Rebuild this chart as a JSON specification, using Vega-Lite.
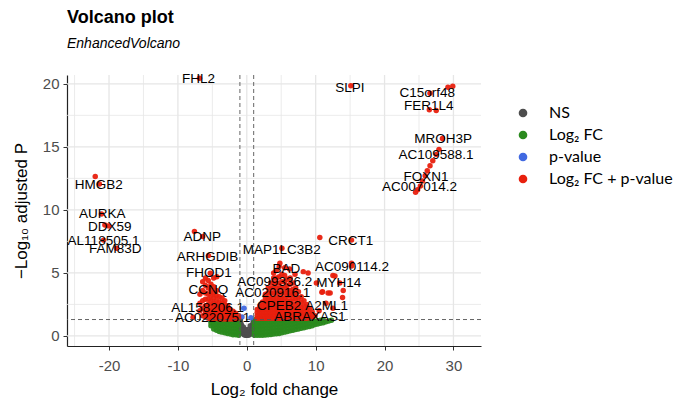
{
"$schema": "https://vega.github.io/schema/vega-lite/v6.json",
"width": 414, "height": 271,
"autosize": {"type": "none"},
"padding": {"left": 67, "top": 75, "right": 195, "bottom": 53},
"background": "white",
"title": {"text": "Volcano plot", "subtitle": "EnhancedVolcano", "anchor": "start", "frame": "group", "fontSize": 18, "fontWeight": "bold", "font": "Liberation Sans", "color": "#000", "subtitleFont": "Liberation Sans", "subtitleFontSize": 14, "subtitleFontStyle": "italic", "subtitleColor": "#000", "subtitlePadding": 10, "offset": 21},
"config": {"view": {"stroke": null}, "axis": {"labelFont": "Liberation Sans", "titleFont": "Liberation Sans", "labelColor": "#4D4D4D", "titleColor": "#000", "titleFontWeight": "normal"}},
"datasets": {
"pts": [
{"x":-0.9,"y":1.1,"g":"NS"},{"x":-0.8,"y":0.9,"g":"NS"},{"x":-0.95,"y":0.7,"g":"NS"},{"x":-0.7,"y":0.5,"g":"NS"},{"x":-0.85,"y":0.3,"g":"NS"},{"x":-0.6,"y":0.2,"g":"NS"},{"x":-0.5,"y":0.4,"g":"NS"},{"x":-0.4,"y":0.1,"g":"NS"},{"x":-0.3,"y":0.2,"g":"NS"},{"x":-0.2,"y":0.05,"g":"NS"},{"x":-0.1,"y":0.1,"g":"NS"},{"x":0,"y":0.05,"g":"NS"},{"x":0.1,"y":0.15,"g":"NS"},{"x":0.2,"y":0.05,"g":"NS"},{"x":0.3,"y":0.25,"g":"NS"},{"x":0.4,"y":0.1,"g":"NS"},{"x":0.5,"y":0.35,"g":"NS"},{"x":0.6,"y":0.2,"g":"NS"},{"x":0.7,"y":0.55,"g":"NS"},{"x":0.8,"y":0.8,"g":"NS"},{"x":0.9,"y":1.0,"g":"NS"},{"x":0.95,"y":1.2,"g":"NS"},{"x":-0.95,"y":1.25,"g":"NS"},{"x":0.85,"y":0.45,"g":"NS"},{"x":-0.75,"y":0.75,"g":"NS"},{"x":0,"y":0.3,"g":"NS"},{"x":-0.5,"y":0.7,"g":"NS"},{"x":0.5,"y":0.8,"g":"NS"},{"x":0.2,"y":0.5,"g":"NS"},{"x":-0.2,"y":0.5,"g":"NS"},{"x":-0.9,"y":0.45,"g":"NS"},{"x":0.9,"y":0.65,"g":"NS"},
{"x":-5.2,"y":0.8,"g":"FC"},{"x":-5.2,"y":1.05,"g":"FC"},{"x":-5.2,"y":1.25,"g":"FC"},
{"x":-4.8,"y":0.55,"g":"FC"},{"x":-4.8,"y":0.8,"g":"FC"},{"x":-4.8,"y":1.05,"g":"FC"},{"x":-4.8,"y":1.25,"g":"FC"},
{"x":-4.4,"y":0.45,"g":"FC"},{"x":-4.4,"y":0.7,"g":"FC"},{"x":-4.4,"y":0.95,"g":"FC"},{"x":-4.4,"y":1.2,"g":"FC"},
{"x":-4.0,"y":0.35,"g":"FC"},{"x":-4.0,"y":0.6,"g":"FC"},{"x":-4.0,"y":0.85,"g":"FC"},{"x":-4.0,"y":1.1,"g":"FC"},
{"x":-3.6,"y":0.3,"g":"FC"},{"x":-3.6,"y":0.55,"g":"FC"},{"x":-3.6,"y":0.8,"g":"FC"},{"x":-3.6,"y":1.05,"g":"FC"},{"x":-3.6,"y":1.28,"g":"FC"},
{"x":-3.2,"y":0.25,"g":"FC"},{"x":-3.2,"y":0.5,"g":"FC"},{"x":-3.2,"y":0.75,"g":"FC"},{"x":-3.2,"y":1.0,"g":"FC"},{"x":-3.2,"y":1.25,"g":"FC"},
{"x":-2.8,"y":0.2,"g":"FC"},{"x":-2.8,"y":0.45,"g":"FC"},{"x":-2.8,"y":0.7,"g":"FC"},{"x":-2.8,"y":0.95,"g":"FC"},{"x":-2.8,"y":1.2,"g":"FC"},
{"x":-2.4,"y":0.15,"g":"FC"},{"x":-2.4,"y":0.4,"g":"FC"},{"x":-2.4,"y":0.65,"g":"FC"},{"x":-2.4,"y":0.9,"g":"FC"},{"x":-2.4,"y":1.15,"g":"FC"},
{"x":-2.0,"y":0.1,"g":"FC"},{"x":-2.0,"y":0.35,"g":"FC"},{"x":-2.0,"y":0.6,"g":"FC"},{"x":-2.0,"y":0.85,"g":"FC"},{"x":-2.0,"y":1.1,"g":"FC"},
{"x":-1.6,"y":0.1,"g":"FC"},{"x":-1.6,"y":0.35,"g":"FC"},{"x":-1.6,"y":0.6,"g":"FC"},{"x":-1.6,"y":0.85,"g":"FC"},{"x":-1.6,"y":1.1,"g":"FC"},{"x":-1.6,"y":1.28,"g":"FC"},
{"x":-1.2,"y":0.05,"g":"FC"},{"x":-1.2,"y":0.3,"g":"FC"},{"x":-1.2,"y":0.55,"g":"FC"},{"x":-1.2,"y":0.8,"g":"FC"},{"x":-1.2,"y":1.05,"g":"FC"},{"x":-1.2,"y":1.25,"g":"FC"},
{"x":1.1,"y":0.05,"g":"FC"},{"x":1.1,"y":0.3,"g":"FC"},{"x":1.1,"y":0.55,"g":"FC"},{"x":1.1,"y":0.8,"g":"FC"},{"x":1.1,"y":1.05,"g":"FC"},{"x":1.1,"y":1.28,"g":"FC"},
{"x":1.5,"y":0.05,"g":"FC"},{"x":1.5,"y":0.3,"g":"FC"},{"x":1.5,"y":0.55,"g":"FC"},{"x":1.5,"y":0.8,"g":"FC"},{"x":1.5,"y":1.05,"g":"FC"},{"x":1.5,"y":1.28,"g":"FC"},
{"x":1.9,"y":0.05,"g":"FC"},{"x":1.9,"y":0.3,"g":"FC"},{"x":1.9,"y":0.55,"g":"FC"},{"x":1.9,"y":0.8,"g":"FC"},{"x":1.9,"y":1.05,"g":"FC"},{"x":1.9,"y":1.28,"g":"FC"},
{"x":2.3,"y":0.05,"g":"FC"},{"x":2.3,"y":0.3,"g":"FC"},{"x":2.3,"y":0.55,"g":"FC"},{"x":2.3,"y":0.8,"g":"FC"},{"x":2.3,"y":1.05,"g":"FC"},{"x":2.3,"y":1.28,"g":"FC"},
{"x":2.7,"y":0.08,"g":"FC"},{"x":2.7,"y":0.33,"g":"FC"},{"x":2.7,"y":0.58,"g":"FC"},{"x":2.7,"y":0.83,"g":"FC"},{"x":2.7,"y":1.08,"g":"FC"},{"x":2.7,"y":1.28,"g":"FC"},
{"x":3.1,"y":0.1,"g":"FC"},{"x":3.1,"y":0.35,"g":"FC"},{"x":3.1,"y":0.6,"g":"FC"},{"x":3.1,"y":0.85,"g":"FC"},{"x":3.1,"y":1.1,"g":"FC"},
{"x":3.5,"y":0.12,"g":"FC"},{"x":3.5,"y":0.37,"g":"FC"},{"x":3.5,"y":0.62,"g":"FC"},{"x":3.5,"y":0.87,"g":"FC"},{"x":3.5,"y":1.12,"g":"FC"},
{"x":3.9,"y":0.15,"g":"FC"},{"x":3.9,"y":0.4,"g":"FC"},{"x":3.9,"y":0.65,"g":"FC"},{"x":3.9,"y":0.9,"g":"FC"},{"x":3.9,"y":1.15,"g":"FC"},
{"x":4.3,"y":0.18,"g":"FC"},{"x":4.3,"y":0.43,"g":"FC"},{"x":4.3,"y":0.68,"g":"FC"},{"x":4.3,"y":0.93,"g":"FC"},{"x":4.3,"y":1.18,"g":"FC"},
{"x":4.7,"y":0.2,"g":"FC"},{"x":4.7,"y":0.45,"g":"FC"},{"x":4.7,"y":0.7,"g":"FC"},{"x":4.7,"y":0.95,"g":"FC"},{"x":4.7,"y":1.2,"g":"FC"},
{"x":5.1,"y":0.25,"g":"FC"},{"x":5.1,"y":0.5,"g":"FC"},{"x":5.1,"y":0.75,"g":"FC"},{"x":5.1,"y":1.0,"g":"FC"},{"x":5.1,"y":1.25,"g":"FC"},
{"x":5.5,"y":0.3,"g":"FC"},{"x":5.5,"y":0.55,"g":"FC"},{"x":5.5,"y":0.8,"g":"FC"},{"x":5.5,"y":1.05,"g":"FC"},{"x":5.5,"y":1.28,"g":"FC"},
{"x":5.9,"y":0.35,"g":"FC"},{"x":5.9,"y":0.6,"g":"FC"},{"x":5.9,"y":0.85,"g":"FC"},{"x":5.9,"y":1.1,"g":"FC"},
{"x":6.3,"y":0.4,"g":"FC"},{"x":6.3,"y":0.65,"g":"FC"},{"x":6.3,"y":0.9,"g":"FC"},{"x":6.3,"y":1.15,"g":"FC"},
{"x":6.7,"y":0.45,"g":"FC"},{"x":6.7,"y":0.7,"g":"FC"},{"x":6.7,"y":0.95,"g":"FC"},{"x":6.7,"y":1.2,"g":"FC"},
{"x":7.1,"y":0.5,"g":"FC"},{"x":7.1,"y":0.75,"g":"FC"},{"x":7.1,"y":1.0,"g":"FC"},{"x":7.1,"y":1.25,"g":"FC"},
{"x":7.5,"y":0.55,"g":"FC"},{"x":7.5,"y":0.8,"g":"FC"},{"x":7.5,"y":1.05,"g":"FC"},{"x":7.5,"y":1.28,"g":"FC"},
{"x":7.9,"y":0.6,"g":"FC"},{"x":7.9,"y":0.85,"g":"FC"},{"x":7.9,"y":1.1,"g":"FC"},
{"x":8.3,"y":0.65,"g":"FC"},{"x":8.3,"y":0.9,"g":"FC"},{"x":8.3,"y":1.15,"g":"FC"},
{"x":8.7,"y":0.7,"g":"FC"},{"x":8.7,"y":0.95,"g":"FC"},{"x":8.7,"y":1.2,"g":"FC"},
{"x":9.1,"y":0.75,"g":"FC"},{"x":9.1,"y":1.0,"g":"FC"},{"x":9.1,"y":1.25,"g":"FC"},
{"x":9.5,"y":0.8,"g":"FC"},{"x":9.5,"y":1.05,"g":"FC"},{"x":9.5,"y":1.28,"g":"FC"},
{"x":9.9,"y":0.9,"g":"FC"},{"x":9.9,"y":1.15,"g":"FC"},
{"x":10.3,"y":0.95,"g":"FC"},{"x":10.3,"y":1.2,"g":"FC"},
{"x":10.7,"y":1.0,"g":"FC"},{"x":10.7,"y":1.25,"g":"FC"},
{"x":11.1,"y":1.05,"g":"FC"},{"x":11.1,"y":1.28,"g":"FC"},
{"x":11.5,"y":1.12,"g":"FC"},{"x":11.9,"y":1.18,"g":"FC"},{"x":12.3,"y":1.25,"g":"FC"},
{"x":-0.4,"y":2.2,"g":"P"},{"x":-0.7,"y":1.5,"g":"P"},{"x":0.6,"y":1.45,"g":"P"},
{"x":-6.8,"y":2.0,"g":"B"},{"x":-6.8,"y":2.6,"g":"B"},{"x":-6.8,"y":3.3,"g":"B"},
{"x":-6.4,"y":1.6,"g":"B"},{"x":-6.4,"y":2.2,"g":"B"},{"x":-6.4,"y":2.8,"g":"B"},{"x":-6.4,"y":3.6,"g":"B"},{"x":-6.4,"y":4.3,"g":"B"},
{"x":-6.0,"y":1.5,"g":"B"},{"x":-6.0,"y":1.9,"g":"B"},{"x":-6.0,"y":2.4,"g":"B"},{"x":-6.0,"y":2.9,"g":"B"},{"x":-6.0,"y":3.4,"g":"B"},{"x":-6.0,"y":4.0,"g":"B"},{"x":-6.0,"y":4.6,"g":"B"},
{"x":-5.6,"y":1.4,"g":"B"},{"x":-5.6,"y":1.7,"g":"B"},{"x":-5.6,"y":2.1,"g":"B"},{"x":-5.6,"y":2.5,"g":"B"},{"x":-5.6,"y":2.9,"g":"B"},{"x":-5.6,"y":3.3,"g":"B"},{"x":-5.6,"y":3.8,"g":"B"},{"x":-5.6,"y":4.4,"g":"B"},
{"x":-5.2,"y":1.4,"g":"B"},{"x":-5.2,"y":1.7,"g":"B"},{"x":-5.2,"y":2.0,"g":"B"},{"x":-5.2,"y":2.4,"g":"B"},{"x":-5.2,"y":2.8,"g":"B"},{"x":-5.2,"y":3.2,"g":"B"},{"x":-5.2,"y":3.6,"g":"B"},{"x":-5.2,"y":4.1,"g":"B"},
{"x":-4.8,"y":1.4,"g":"B"},{"x":-4.8,"y":1.65,"g":"B"},{"x":-4.8,"y":1.9,"g":"B"},{"x":-4.8,"y":2.2,"g":"B"},{"x":-4.8,"y":2.6,"g":"B"},{"x":-4.8,"y":3.0,"g":"B"},{"x":-4.8,"y":3.4,"g":"B"},{"x":-4.8,"y":3.9,"g":"B"},{"x":-4.8,"y":4.6,"g":"B"},
{"x":-4.4,"y":1.4,"g":"B"},{"x":-4.4,"y":1.6,"g":"B"},{"x":-4.4,"y":1.85,"g":"B"},{"x":-4.4,"y":2.1,"g":"B"},{"x":-4.4,"y":2.4,"g":"B"},{"x":-4.4,"y":2.8,"g":"B"},{"x":-4.4,"y":3.2,"g":"B"},{"x":-4.4,"y":3.6,"g":"B"},
{"x":-4.0,"y":1.35,"g":"B"},{"x":-4.0,"y":1.55,"g":"B"},{"x":-4.0,"y":1.8,"g":"B"},{"x":-4.0,"y":2.05,"g":"B"},{"x":-4.0,"y":2.35,"g":"B"},{"x":-4.0,"y":2.7,"g":"B"},{"x":-4.0,"y":3.1,"g":"B"},
{"x":-3.6,"y":1.35,"g":"B"},{"x":-3.6,"y":1.55,"g":"B"},{"x":-3.6,"y":1.75,"g":"B"},{"x":-3.6,"y":2.0,"g":"B"},{"x":-3.6,"y":2.3,"g":"B"},{"x":-3.6,"y":2.6,"g":"B"},{"x":-3.6,"y":3.0,"g":"B"},
{"x":-3.2,"y":1.35,"g":"B"},{"x":-3.2,"y":1.5,"g":"B"},{"x":-3.2,"y":1.7,"g":"B"},{"x":-3.2,"y":1.95,"g":"B"},{"x":-3.2,"y":2.2,"g":"B"},{"x":-3.2,"y":2.5,"g":"B"},{"x":-3.2,"y":2.8,"g":"B"},
{"x":-2.8,"y":1.35,"g":"B"},{"x":-2.8,"y":1.5,"g":"B"},{"x":-2.8,"y":1.7,"g":"B"},{"x":-2.8,"y":1.9,"g":"B"},{"x":-2.8,"y":2.15,"g":"B"},{"x":-2.8,"y":2.4,"g":"B"},
{"x":-2.4,"y":1.35,"g":"B"},{"x":-2.4,"y":1.5,"g":"B"},{"x":-2.4,"y":1.7,"g":"B"},{"x":-2.4,"y":1.9,"g":"B"},{"x":-2.4,"y":2.1,"g":"B"},
{"x":-2.0,"y":1.35,"g":"B"},{"x":-2.0,"y":1.5,"g":"B"},{"x":-2.0,"y":1.7,"g":"B"},{"x":-2.0,"y":1.95,"g":"B"},
{"x":-1.6,"y":1.35,"g":"B"},{"x":-1.6,"y":1.55,"g":"B"},{"x":-1.6,"y":1.8,"g":"B"},
{"x":-1.2,"y":1.4,"g":"B"},{"x":-1.2,"y":1.6,"g":"B"},
{"x":-7.8,"y":1.48,"g":"B"},{"x":-5.3,"y":4.97,"g":"B"},{"x":-4.35,"y":4.7,"g":"B"},{"x":-5.56,"y":6.37,"g":"B"},{"x":-6.4,"y":7.88,"g":"B"},{"x":-7.6,"y":8.28,"g":"B"},{"x":-6.87,"y":20.45,"g":"B"},
{"x":-22.0,"y":12.65,"g":"B"},{"x":-21.4,"y":12.06,"g":"B"},{"x":-21.1,"y":9.68,"g":"B"},{"x":-20.06,"y":8.73,"g":"B"},{"x":-20.6,"y":8.8,"g":"B"},{"x":-20.8,"y":7.6,"g":"B"},{"x":-18.9,"y":6.96,"g":"B"},
{"x":1.5,"y":1.4,"g":"B"},{"x":1.5,"y":1.6,"g":"B"},{"x":1.5,"y":1.85,"g":"B"},{"x":1.5,"y":2.1,"g":"B"},
{"x":1.9,"y":1.4,"g":"B"},{"x":1.9,"y":1.6,"g":"B"},{"x":1.9,"y":1.85,"g":"B"},{"x":1.9,"y":2.1,"g":"B"},{"x":1.9,"y":2.4,"g":"B"},
{"x":2.3,"y":1.4,"g":"B"},{"x":2.3,"y":1.6,"g":"B"},{"x":2.3,"y":1.85,"g":"B"},{"x":2.3,"y":2.1,"g":"B"},{"x":2.3,"y":2.4,"g":"B"},{"x":2.3,"y":2.7,"g":"B"},
{"x":2.7,"y":1.4,"g":"B"},{"x":2.7,"y":1.6,"g":"B"},{"x":2.7,"y":1.85,"g":"B"},{"x":2.7,"y":2.1,"g":"B"},{"x":2.7,"y":2.4,"g":"B"},{"x":2.7,"y":2.7,"g":"B"},{"x":2.7,"y":3.0,"g":"B"},{"x":2.7,"y":3.3,"g":"B"},
{"x":3.1,"y":1.4,"g":"B"},{"x":3.1,"y":1.6,"g":"B"},{"x":3.1,"y":1.85,"g":"B"},{"x":3.1,"y":2.1,"g":"B"},{"x":3.1,"y":2.4,"g":"B"},{"x":3.1,"y":2.7,"g":"B"},{"x":3.1,"y":3.0,"g":"B"},{"x":3.1,"y":3.4,"g":"B"},{"x":3.1,"y":3.8,"g":"B"},
{"x":3.5,"y":1.4,"g":"B"},{"x":3.5,"y":1.6,"g":"B"},{"x":3.5,"y":1.85,"g":"B"},{"x":3.5,"y":2.1,"g":"B"},{"x":3.5,"y":2.4,"g":"B"},{"x":3.5,"y":2.7,"g":"B"},{"x":3.5,"y":3.0,"g":"B"},{"x":3.5,"y":3.4,"g":"B"},{"x":3.5,"y":3.8,"g":"B"},{"x":3.5,"y":4.2,"g":"B"},
{"x":3.9,"y":1.4,"g":"B"},{"x":3.9,"y":1.6,"g":"B"},{"x":3.9,"y":1.85,"g":"B"},{"x":3.9,"y":2.1,"g":"B"},{"x":3.9,"y":2.4,"g":"B"},{"x":3.9,"y":2.7,"g":"B"},{"x":3.9,"y":3.0,"g":"B"},{"x":3.9,"y":3.4,"g":"B"},{"x":3.9,"y":3.8,"g":"B"},{"x":3.9,"y":4.2,"g":"B"},{"x":3.9,"y":4.6,"g":"B"},{"x":3.9,"y":5.0,"g":"B"},
{"x":4.3,"y":1.4,"g":"B"},{"x":4.3,"y":1.6,"g":"B"},{"x":4.3,"y":1.85,"g":"B"},{"x":4.3,"y":2.1,"g":"B"},{"x":4.3,"y":2.4,"g":"B"},{"x":4.3,"y":2.7,"g":"B"},{"x":4.3,"y":3.0,"g":"B"},{"x":4.3,"y":3.4,"g":"B"},{"x":4.3,"y":3.8,"g":"B"},{"x":4.3,"y":4.2,"g":"B"},{"x":4.3,"y":4.6,"g":"B"},{"x":4.3,"y":5.2,"g":"B"},
{"x":4.7,"y":1.4,"g":"B"},{"x":4.7,"y":1.6,"g":"B"},{"x":4.7,"y":1.85,"g":"B"},{"x":4.7,"y":2.1,"g":"B"},{"x":4.7,"y":2.4,"g":"B"},{"x":4.7,"y":2.7,"g":"B"},{"x":4.7,"y":3.0,"g":"B"},{"x":4.7,"y":3.4,"g":"B"},{"x":4.7,"y":3.8,"g":"B"},{"x":4.7,"y":4.2,"g":"B"},{"x":4.7,"y":4.7,"g":"B"},{"x":4.7,"y":5.5,"g":"B"},
{"x":5.1,"y":1.4,"g":"B"},{"x":5.1,"y":1.6,"g":"B"},{"x":5.1,"y":1.85,"g":"B"},{"x":5.1,"y":2.1,"g":"B"},{"x":5.1,"y":2.4,"g":"B"},{"x":5.1,"y":2.7,"g":"B"},{"x":5.1,"y":3.0,"g":"B"},{"x":5.1,"y":3.4,"g":"B"},{"x":5.1,"y":3.8,"g":"B"},{"x":5.1,"y":4.3,"g":"B"},{"x":5.1,"y":4.9,"g":"B"},
{"x":5.5,"y":1.4,"g":"B"},{"x":5.5,"y":1.6,"g":"B"},{"x":5.5,"y":1.85,"g":"B"},{"x":5.5,"y":2.1,"g":"B"},{"x":5.5,"y":2.4,"g":"B"},{"x":5.5,"y":2.7,"g":"B"},{"x":5.5,"y":3.0,"g":"B"},{"x":5.5,"y":3.4,"g":"B"},{"x":5.5,"y":3.8,"g":"B"},{"x":5.5,"y":4.3,"g":"B"},{"x":5.5,"y":4.8,"g":"B"},{"x":5.5,"y":5.4,"g":"B"},
{"x":5.9,"y":1.4,"g":"B"},{"x":5.9,"y":1.65,"g":"B"},{"x":5.9,"y":1.9,"g":"B"},{"x":5.9,"y":2.2,"g":"B"},{"x":5.9,"y":2.5,"g":"B"},{"x":5.9,"y":2.8,"g":"B"},{"x":5.9,"y":3.2,"g":"B"},{"x":5.9,"y":3.6,"g":"B"},{"x":5.9,"y":4.0,"g":"B"},{"x":5.9,"y":4.5,"g":"B"},
{"x":6.3,"y":1.4,"g":"B"},{"x":6.3,"y":1.65,"g":"B"},{"x":6.3,"y":1.9,"g":"B"},{"x":6.3,"y":2.2,"g":"B"},{"x":6.3,"y":2.5,"g":"B"},{"x":6.3,"y":2.8,"g":"B"},{"x":6.3,"y":3.2,"g":"B"},{"x":6.3,"y":3.6,"g":"B"},{"x":6.3,"y":4.1,"g":"B"},{"x":6.3,"y":4.6,"g":"B"},
{"x":6.7,"y":1.4,"g":"B"},{"x":6.7,"y":1.65,"g":"B"},{"x":6.7,"y":1.9,"g":"B"},{"x":6.7,"y":2.2,"g":"B"},{"x":6.7,"y":2.5,"g":"B"},{"x":6.7,"y":2.9,"g":"B"},{"x":6.7,"y":3.3,"g":"B"},{"x":6.7,"y":3.7,"g":"B"},{"x":6.7,"y":4.2,"g":"B"},
{"x":7.1,"y":1.4,"g":"B"},{"x":7.1,"y":1.65,"g":"B"},{"x":7.1,"y":1.9,"g":"B"},{"x":7.1,"y":2.2,"g":"B"},{"x":7.1,"y":2.5,"g":"B"},{"x":7.1,"y":2.9,"g":"B"},{"x":7.1,"y":3.3,"g":"B"},{"x":7.1,"y":3.8,"g":"B"},
{"x":7.5,"y":1.4,"g":"B"},{"x":7.5,"y":1.65,"g":"B"},{"x":7.5,"y":1.9,"g":"B"},{"x":7.5,"y":2.2,"g":"B"},{"x":7.5,"y":2.6,"g":"B"},{"x":7.5,"y":3.0,"g":"B"},{"x":7.5,"y":3.5,"g":"B"},
{"x":7.9,"y":1.4,"g":"B"},{"x":7.9,"y":1.7,"g":"B"},{"x":7.9,"y":2.0,"g":"B"},{"x":7.9,"y":2.3,"g":"B"},{"x":7.9,"y":2.7,"g":"B"},{"x":7.9,"y":3.1,"g":"B"},
{"x":8.3,"y":1.4,"g":"B"},{"x":8.3,"y":1.7,"g":"B"},{"x":8.3,"y":2.0,"g":"B"},{"x":8.3,"y":2.4,"g":"B"},{"x":8.3,"y":2.8,"g":"B"},
{"x":8.7,"y":1.4,"g":"B"},{"x":8.7,"y":1.7,"g":"B"},{"x":8.7,"y":2.1,"g":"B"},{"x":8.7,"y":2.5,"g":"B"},
{"x":9.1,"y":1.45,"g":"B"},{"x":9.1,"y":1.8,"g":"B"},{"x":9.1,"y":2.2,"g":"B"},
{"x":9.5,"y":1.5,"g":"B"},{"x":9.5,"y":1.9,"g":"B"},{"x":9.9,"y":1.6,"g":"B"},
{"x":4.8,"y":5.77,"g":"B"},{"x":5.1,"y":6.96,"g":"B"},{"x":10.6,"y":7.8,"g":"B"},{"x":15.2,"y":7.6,"g":"B"},{"x":15.2,"y":5.77,"g":"B"},{"x":15.2,"y":5.55,"g":"B"},{"x":13.5,"y":4.2,"g":"B"},{"x":12.8,"y":4.76,"g":"B"},{"x":10.9,"y":3.47,"g":"B"},{"x":12.1,"y":3.4,"g":"B"},{"x":13.9,"y":3.04,"g":"B"},{"x":8.2,"y":5.1,"g":"B"},{"x":8.9,"y":5.0,"g":"B"},{"x":12.5,"y":4.8,"g":"B"},{"x":14.0,"y":3.6,"g":"B"},{"x":11.0,"y":3.5,"g":"B"},{"x":11.8,"y":3.4,"g":"B"},{"x":10.1,"y":4.2,"g":"B"},{"x":11.5,"y":2.6,"g":"B"},{"x":12.5,"y":2.2,"g":"B"},{"x":10.5,"y":2.0,"g":"B"},{"x":6.2,"y":5.3,"g":"B"},{"x":7.0,"y":4.9,"g":"B"},
{"x":15.1,"y":19.84,"g":"B"},{"x":29.2,"y":19.73,"g":"B"},{"x":29.9,"y":19.8,"g":"B"},{"x":26.6,"y":19.26,"g":"B"},{"x":26.5,"y":17.94,"g":"B"},{"x":27.5,"y":17.88,"g":"B"},{"x":28.4,"y":15.66,"g":"B"},
{"x":27.9,"y":14.8,"g":"B"},{"x":27.5,"y":14.4,"g":"B"},{"x":27.0,"y":13.9,"g":"B"},{"x":26.6,"y":13.5,"g":"B"},{"x":26.2,"y":13.1,"g":"B"},{"x":25.9,"y":12.7,"g":"B"},{"x":25.5,"y":12.3,"g":"B"},{"x":25.2,"y":11.9,"g":"B"},{"x":24.8,"y":11.6,"g":"B"},{"x":24.5,"y":11.4,"g":"B"}
],
"labs": [
{"gene":"FHL2","lx":-7.0,"ly":20.37},{"gene":"SLPI","lx":14.97,"ly":19.66},{"gene":"C15orf48","lx":26.2,"ly":19.26},{"gene":"FER1L4","lx":26.4,"ly":18.28},{"gene":"MROH3P","lx":28.5,"ly":15.6},{"gene":"AC109588.1","lx":27.46,"ly":14.37},{"gene":"FOXN1","lx":26.0,"ly":12.64},{"gene":"AC007014.2","lx":25.07,"ly":11.85},
{"gene":"HMGB2","lx":-21.5,"ly":11.98},{"gene":"AURKA","lx":-21.0,"ly":9.66},{"gene":"DDX59","lx":-19.9,"ly":8.67},{"gene":"AL118505.1","lx":-20.8,"ly":7.54},{"gene":"FAM83D","lx":-19.1,"ly":6.9},
{"gene":"ADNP","lx":-6.45,"ly":7.88},{"gene":"ARHGDIB","lx":-5.72,"ly":6.25},{"gene":"MAP1LC3B2","lx":5.07,"ly":6.83},{"gene":"CRCT1","lx":15.09,"ly":7.56},{"gene":"BAD","lx":5.74,"ly":5.29},{"gene":"AC090114.2","lx":15.27,"ly":5.45},{"gene":"MYH14","lx":13.35,"ly":4.23},{"gene":"FHOD1","lx":-5.5,"ly":4.97},{"gene":"AC099336.2","lx":4.05,"ly":4.31},{"gene":"CCNQ","lx":-5.56,"ly":3.65},{"gene":"AC020916.1","lx":3.78,"ly":3.44},{"gene":"AL158206.1","lx":-5.68,"ly":2.2},{"gene":"CPEB2","lx":4.7,"ly":2.38},{"gene":"A2ML1","lx":11.6,"ly":2.38},{"gene":"AC022075.1","lx":-4.96,"ly":1.4},{"gene":"ABRAXAS1","lx":9.17,"ly":1.48}
],
"gridx": [{"v":-25,"m":0},{"v":-20,"m":1},{"v":-15,"m":0},{"v":-10,"m":1},{"v":-5,"m":0},{"v":0,"m":1},{"v":5,"m":0},{"v":10,"m":1},{"v":15,"m":0},{"v":20,"m":1},{"v":25,"m":0},{"v":30,"m":1}],
"gridy": [{"v":0,"m":1},{"v":2.5,"m":0},{"v":5,"m":1},{"v":7.5,"m":0},{"v":10,"m":1},{"v":12.5,"m":0},{"v":15,"m":1},{"v":17.5,"m":0},{"v":20,"m":1}],
"vcut": [{"v":-1},{"v":1}],
"hcut": [{"h":1.301}]
},
"layer": [
{"data": {"name": "gridx"}, "mark": {"type": "rule", "color": "#E6E6E6"},
 "encoding": {"x": {"field": "v", "type": "quantitative", "scale": {"domain": [-26.1, 34], "nice": false, "zero": false},
    "axis": {"values": [-20,-10,0,10,20,30], "grid": false, "labelExpr": "'' + datum.value", "labelOverlap": false, "labelFlush": false, "title": "Log₂ fold change", "titleFontSize": 17, "labelFontSize": 15, "titlePadding": 8, "labelPadding": 8, "tickSize": 4, "tickColor": "#333", "domainColor": "#222", "domainWidth": 1.2}},
  "strokeWidth": {"field": "m", "type": "quantitative", "scale": {"domain": [0, 1], "range": [0.8, 1.3]}, "legend": null}}},
{"data": {"name": "gridy"}, "mark": {"type": "rule", "color": "#E6E6E6"},
 "encoding": {"y": {"field": "v", "type": "quantitative", "scale": {"domain": [-0.8, 20.7], "nice": false, "zero": false},
    "axis": {"values": [0,5,10,15,20], "grid": false, "labelExpr": "'' + datum.value", "labelOverlap": false, "labelFlush": false, "title": "−Log₁₀ adjusted P", "titleFontSize": 17, "labelFontSize": 15, "titlePadding": 12, "labelPadding": 4, "tickSize": 4, "tickColor": "#333", "domainColor": "#222", "domainWidth": 1.2}},
  "strokeWidth": {"field": "m", "type": "quantitative", "scale": {"domain": [0, 1], "range": [0.8, 1.3]}, "legend": null}}},
{"data": {"name": "pts"},
 "mark": {"type": "circle", "size": 30, "opacity": 0.95},
 "encoding": {
  "x": {"field": "x", "type": "quantitative"},
  "y": {"field": "y", "type": "quantitative"},
  "color": {"field": "g", "type": "nominal", "sort": null,
    "scale": {"domain": ["NS","FC","P","B"], "range": ["#4D4D4D","#2A8A1E","#4169E1","#E8200E"]},
    "legend": {"title": null, "orient": "none", "legendX": 448, "legendY": 30, "padding": 0, "symbolType": "circle", "symbolSize": 75, "symbolOpacity": 1, "labelFont": "Lato", "labelFontSize": 16, "labelColor": "#000", "labelOffset": 18, "rowPadding": 6, "labelLimit": 300,
      "labelExpr": "datum.label === 'NS' ? 'NS' : datum.label === 'FC' ? 'Log₂ FC' : datum.label === 'P' ? 'p-value' : 'Log₂ FC + p-value'"}}
 }},
{"data": {"name": "vcut"}, "mark": {"type": "rule", "strokeDash": [4, 3], "color": "#555", "strokeWidth": 0.9}, "encoding": {"x": {"field": "v", "type": "quantitative"}}},
{"data": {"name": "hcut"}, "mark": {"type": "rule", "strokeDash": [4, 3], "color": "#555", "strokeWidth": 0.9}, "encoding": {"y": {"field": "h", "type": "quantitative"}}},
{"data": {"name": "labs"}, "mark": {"type": "text", "font": "Liberation Sans", "fontSize": 13.5, "color": "#000", "align": "center", "baseline": "middle"},
 "encoding": {"x": {"field": "lx", "type": "quantitative"}, "y": {"field": "ly", "type": "quantitative"}, "text": {"field": "gene"}}}
]
}
